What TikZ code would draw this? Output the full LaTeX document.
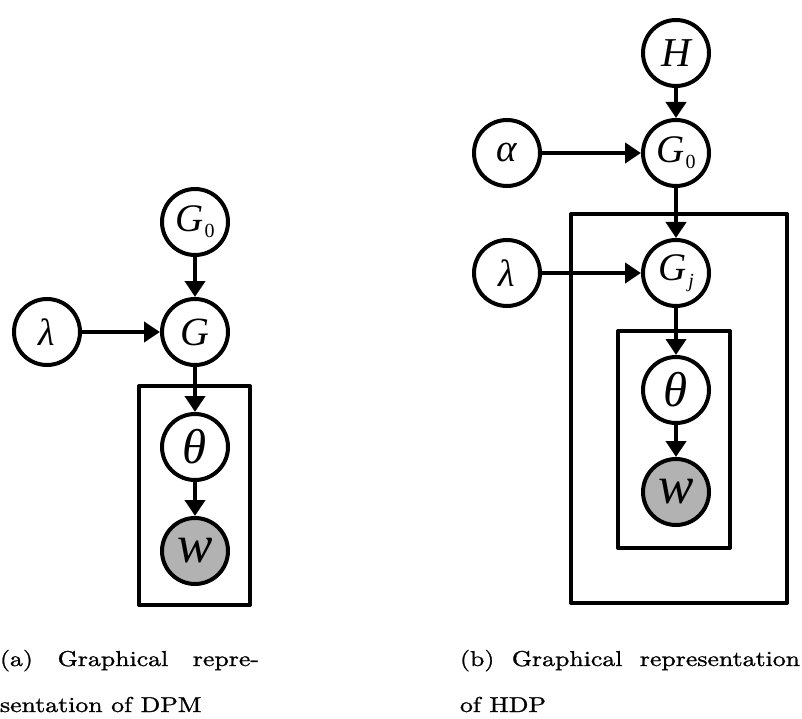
\documentclass[tikz,border=0pt]{standalone}
\usepackage{fontspec}
\usepackage{graphicx}
\usetikzlibrary{arrows.meta}
\newfontfamily\tnr{Liberation Serif}
\newfontface\capfont{lmroman10-regular.otf}[FakeStretch=1.2, FakeBold=1.2]
\newcommand{\fs}[1]{\fontsize{#1}{#1}\selectfont}
\tikzset{
  var/.style={circle, draw=black, line width=4pt, minimum size=66pt, inner sep=0pt, fill=white},
  obs/.style={var, fill=black!30},
  plate/.style={draw=black, line width=4pt, line join=round},
  edge/.style={line width=4pt, -{Triangle[length=16pt,width=20pt]}},
  captext/.style={anchor=base west, inner sep=0pt, outer sep=0pt, font=\capfont\fs{21.5}}
}
\begin{document}
\begin{tikzpicture}[x=1pt,y=-1pt]
\useasboundingbox (0,0) rectangle (802,719);
% ---------- DPM ----------
\draw[plate] (139,386) rectangle (250,605);
\node[var] (aG0) at (195,222) {\tnr\itshape\fs{39}G\kern1pt\raisebox{-6pt}{\upshape\fs{20}0}};
\node[var] (aG) at (195,332) {\tnr\itshape\fs{40}G};
\node[var] (alam) at (47,332) {\tnr\itshape\fs{38}λ};
\node[var] (ath) at (195,447) {\tnr\itshape\fs{49}θ};
\node[obs] (aw) at (195,551) {\tnr\itshape\fs{53}w};
\draw[edge] (aG0) -- (aG);
\draw[edge] (alam) -- (aG);
\draw[edge] (aG) -- (ath);
\draw[edge] (ath) -- (aw);
% ---------- HDP ----------
\draw[plate] (571,214) rectangle (787,603);
\draw[plate] (618,331) rectangle (730,548);
\node[var] (bH) at (676,53) {\tnr\itshape\fs{41}H};
\node[var] (bG0) at (676,153) {\tnr\itshape\fs{39}G\kern1pt\raisebox{-6pt}{\upshape\fs{20}0}};
\node[var] (balpha) at (507,153) {\tnr\itshape\fs{39}α};
\node[var] (blam) at (507,273) {\tnr\itshape\fs{38}λ};
\node[var] (bGj) at (676,273) {\tnr\itshape\fs{39}G\kern2pt\raisebox{-7pt}{\fs{20}j}};
\node[var] (bth) at (676,390) {\tnr\itshape\fs{49}θ};
\node[obs] (bw) at (676,492) {\tnr\itshape\fs{53}w};
\draw[edge] (bH) -- (bG0);
\draw[edge] (balpha) -- (bG0);
\draw[edge] (bG0) -- (bGj);
\draw[edge] (blam) -- (bGj);
\draw[edge] (bGj) -- (bth);
\draw[edge] (bth) -- (bw);
% ---------- captions ----------
\node[captext] (capa1) at (0,666) {\makebox[259pt][s]{(a) Graphical repre-}};
\node[captext] (capa2) at (0,712) {sentation of DPM};
\node[captext] (capb1) at (460,666) {\makebox[340pt][s]{(b) Graphical representation}};
\node[captext] (capb2) at (460,712) {of HDP};
\end{tikzpicture}
\end{document}
